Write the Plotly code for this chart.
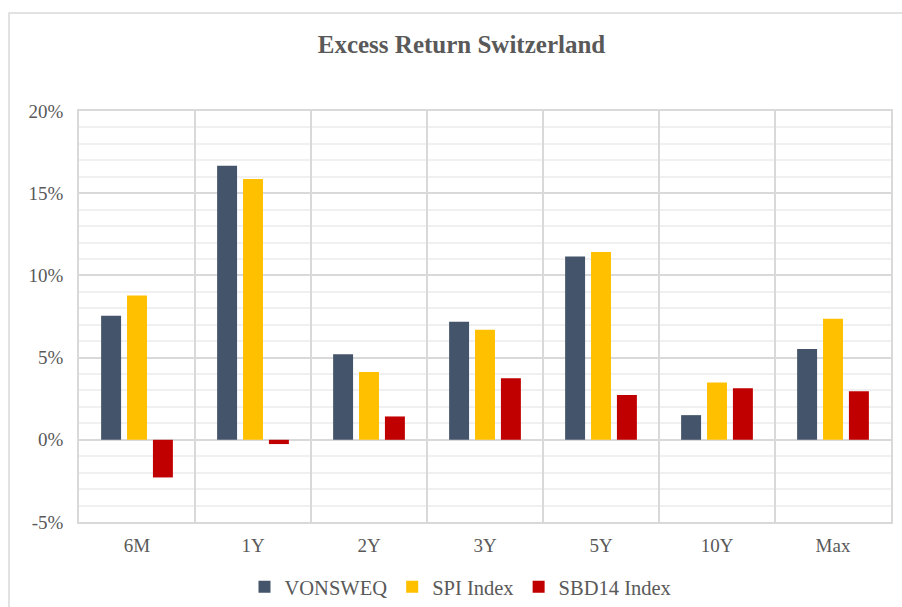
import plotly.graph_objects as go

categories = ["6M", "1Y", "2Y", "3Y", "5Y", "10Y", "Max"]
vonsweq = [7.54, 16.67, 5.21, 7.18, 11.15, 1.50, 5.52]
spi_index = [8.78, 15.86, 4.12, 6.69, 11.42, 3.49, 7.36]
sbd14_index = [-2.29, -0.26, 1.42, 3.75, 2.72, 3.14, 2.96]
y_tick_values = [-5, 0, 5, 10, 15, 20]
y_tick_labels = ["-5%", "0%", "5%", "10%", "15%", "20%"]

series = [
    ("VONSWEQ", vonsweq, "#44546A"),
    ("SPI Index", spi_index, "#FFC000"),
    ("SBD14 Index", sbd14_index, "#C00000"),
]

FONT = "'Liberation Serif', 'Times New Roman', serif"
GRAY = "#595959"

fig = go.Figure()
for name, vals, color in series:
    fig.add_trace(go.Bar(
        x=categories, y=vals, name=name,
        marker=dict(color=color, line=dict(width=0)),
    ))

fig.update_layout(
    width=902, height=607,
    margin=dict(l=79, r=11, t=111, b=85),
    paper_bgcolor="white", plot_bgcolor="white",
    barmode="group", bargap=0.33, bargroupgap=0.23,
    font=dict(family=FONT, color=GRAY, size=19),
    title=dict(text="<b>Excess Return Switzerland</b>", x=461.5 / 902, xanchor="center",
               y=1 - 44 / 607, yanchor="middle",
               font=dict(family=FONT, size=25, color=GRAY)),
    legend=dict(orientation="h", x=0.5 - 24.5 / 812, xanchor="center",
                yref="container", y=1 - 587 / 607, yanchor="middle",
                font=dict(family=FONT, size=20.5, color=GRAY), itemwidth=30,
                traceorder="normal"),
    xaxis=dict(
        type="category", tickson="boundaries", showgrid=True, gridcolor="#d9d9d9",
        gridwidth=1.5, ticks="", showline=True, linecolor="#d9d9d9", linewidth=1.5,
        mirror=True, tickfont=dict(family=FONT, size=19, color=GRAY), ticklabelstandoff=5,
        automargin=False,
    ),
    yaxis=dict(
        range=[-5, 20], tickvals=y_tick_values, ticktext=y_tick_labels, showgrid=True,
        gridcolor="#d9d9d9", gridwidth=1.5, zeroline=True, zerolinecolor="#d9d9d9",
        zerolinewidth=1.5, showline=True, linecolor="#d9d9d9", linewidth=1.5, mirror=True,
        tickfont=dict(family=FONT, size=19, color=GRAY), ticklabelstandoff=10,
        minor=dict(dtick=1, showgrid=True, gridcolor="#f0f0f0", gridwidth=1.5),
        automargin=False,
    ),
    shapes=[
        dict(type="rect", xref="paper", yref="paper", x0=(9 - 79) / 812, x1=1.05,
             y0=-0.4, y1=(522 - 13) / 411, line=dict(color="#d9d9d9", width=1.5),
             fillcolor="rgba(0,0,0,0)", layer="below"),
    ],
)

fig.write_html("out.html", config={"displayModeBar": False},
               post_script="document.body.style.margin='0px';")
